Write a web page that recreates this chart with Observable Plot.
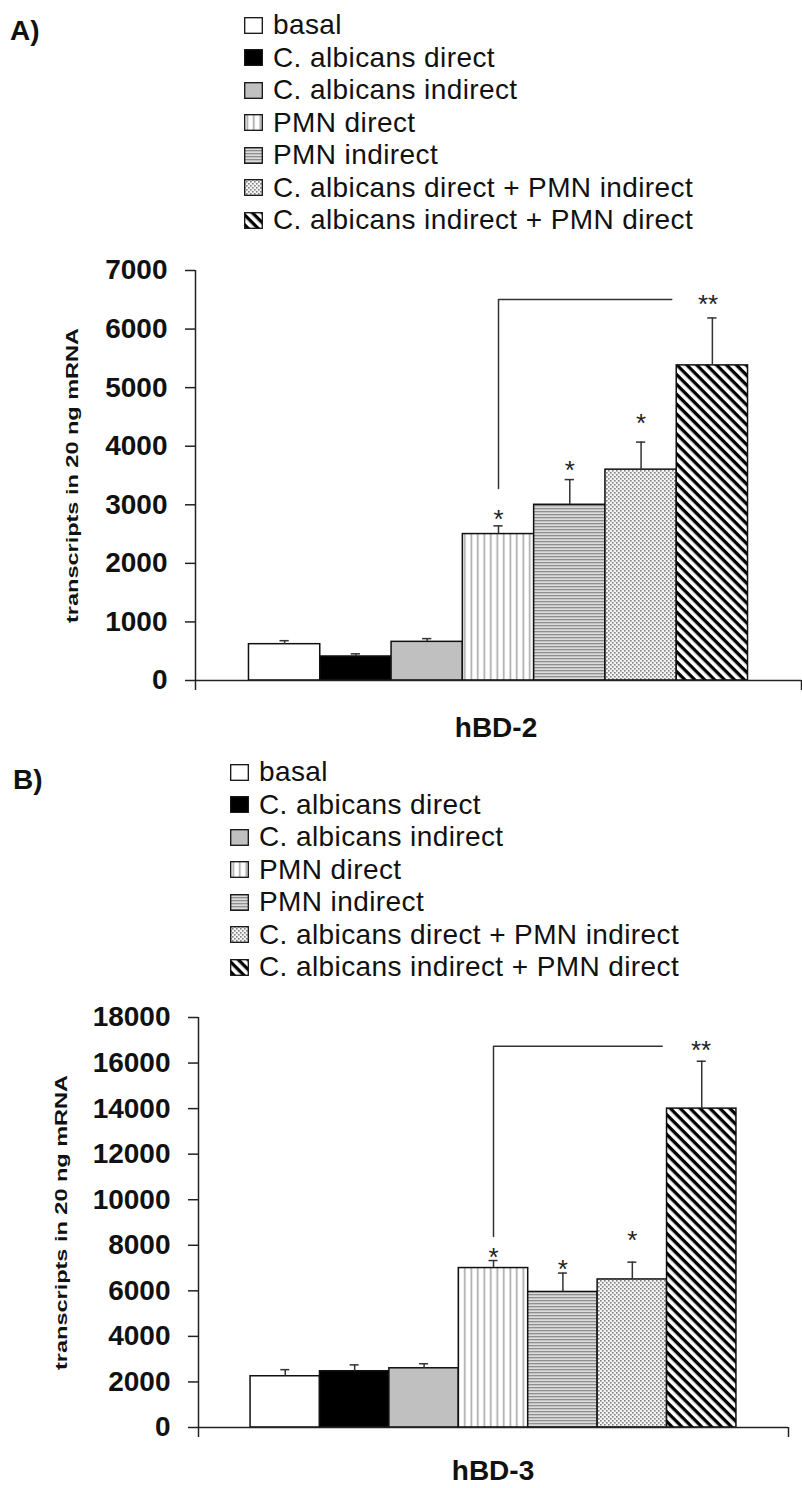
<!DOCTYPE html>
<html><head><meta charset="utf-8">
<script src="https://cdn.jsdelivr.net/npm/d3@7"></script>
<script src="https://cdn.jsdelivr.net/npm/@observablehq/plot@0.6"></script>
<style>
body{margin:0;background:#fff;}
#page{position:relative;width:802px;height:1488px;overflow:hidden;font-family:'Liberation Sans',Arial,Helvetica,sans-serif;color:#111;background:#fff;}
.abs{position:absolute;}
.panel{font-weight:bold;font-size:28px;line-height:28px;transform:translateY(-50%);}
.leg-row{position:absolute;height:32px;display:flex;align-items:center;font-size:28px;letter-spacing:0.4px;white-space:nowrap;transform:translateY(-50%);}
.leg-row svg{margin-right:10px;flex:none;}
.xtitle{font-weight:bold;font-size:28px;line-height:28px;transform:translate(-50%,-50%);white-space:nowrap;}
</style></head>
<body>
<svg width="0" height="0" style="position:absolute">
<defs>
<pattern id="pVert" patternUnits="userSpaceOnUse" width="6.5" height="10"><rect width="6.5" height="10" fill="#fff"/><rect x="2.5" width="1.6" height="10" fill="#a6a6a6"/></pattern>
<pattern id="pHoriz" patternUnits="userSpaceOnUse" width="10" height="3"><rect width="10" height="3" fill="#dcdcdc"/><rect width="10" height="1.3" fill="#8f8f8f"/></pattern>
<pattern id="pDots" patternUnits="userSpaceOnUse" width="4" height="4"><rect width="4" height="4" fill="#f4f4f4"/><rect width="1.6" height="1.6" fill="#808080"/><rect x="2" y="2" width="1.6" height="1.6" fill="#808080"/></pattern>
<pattern id="pDiag" patternUnits="userSpaceOnUse" width="10" height="7" patternTransform="rotate(45)"><rect width="10" height="7" fill="#fff"/><rect width="10" height="3.3" fill="#000"/></pattern>
</defs></svg>
<div id="page"></div>
<script>
// ---- data ----
const categories = [
  "basal",
  "C. albicans direct",
  "C. albicans indirect",
  "PMN direct",
  "PMN indirect",
  "C. albicans direct + PMN indirect",
  "C. albicans indirect + PMN direct"
];
const valuesA = [620, 410, 660, 2500, 3000, 3600, 5380];
const errorsA = [60, 45, 55, 140, 430, 470, 810];
const valuesB = [2250, 2470, 2600, 7000, 5950, 6500, 14000];
const errorsB = [290, 280, 200, 330, 830, 760, 2080];
const yTicksA = [0, 1000, 2000, 3000, 4000, 5000, 6000, 7000];
const yTicksB = [0, 2000, 4000, 6000, 8000, 10000, 12000, 14000, 16000, 18000];
const starLabels = ["*", "*", "*", "**"];
const starIndexA = [3, 4, 5, 5.94];
const starYA = [2868, 3705, 4507, 6539];
const starIndexB = [3, 4, 5, 5.99];
const starYB = [7770, 7242, 8518, 16830];
const bracketX = [3, 3, 5.43];
const bracketYA = [3278, 6505, 6505];
const bracketYB = [8386, 16741, 16741];
const titles = ["hBD-2", "hBD-3"];
const panelLabels = ["A)", "B)"];
const yLabel = "transcripts in 20 ng mRNA";

// ---- styles ----
const fills = ["#ffffff", "#000000", "#c0c0c0", "url(#pVert)", "url(#pHoriz)", "url(#pDots)", "url(#pDiag)"];
const FONT = "'Liberation Sans', Arial, Helvetica, sans-serif";

const page = document.getElementById("page");

function addDiv(cls, text, left, top) {
  const d = document.createElement("div");
  d.className = "abs " + cls;
  d.textContent = text;
  d.style.left = left + "px";
  d.style.top = top + "px";
  page.appendChild(d);
  return d;
}

function legend(left, top0, step) {
  categories.forEach((c, i) => {
    const row = document.createElement("div");
    row.className = "leg-row";
    row.style.left = left + "px";
    row.style.top = (top0 + i * step) + "px";
    const ns = "http://www.w3.org/2000/svg";
    const s = document.createElementNS(ns, "svg");
    s.setAttribute("width", 19); s.setAttribute("height", 17);
    const r = document.createElementNS(ns, "rect");
    r.setAttribute("x", 0.7); r.setAttribute("y", 0.7);
    r.setAttribute("width", 17.6); r.setAttribute("height", 15.6);
    r.setAttribute("fill", fills[i]); r.setAttribute("stroke", "#111"); r.setAttribute("stroke-width", 1.3);
    s.appendChild(r);
    row.appendChild(s);
    const t = document.createElement("span");
    t.textContent = c;
    row.appendChild(t);
    page.appendChild(row);
  });
}

function chart(cfg) {
  const rows = categories.map((c, i) => ({i, c, value: cfg.values[i], err: cfg.errors[i]}));
  const xDomain = [-1.25, categories.length + 0.25];
  const stars = cfg.starIdx.map((x, k) => ({x, y: cfg.starY[k], t: starLabels[k]}));
  const bracket = bracketX.map((x, k) => ({x, y: cfg.bracketY[k]}));
  const svg = Plot.plot({
    width: 802, height: cfg.height,
    marginLeft: cfg.ml, marginRight: cfg.mr, marginTop: cfg.mt, marginBottom: cfg.mb,
    x: {domain: xDomain, axis: null},
    y: {domain: [0, cfg.ticks[cfg.ticks.length - 1]], axis: null},
    style: {fontFamily: FONT, fontSize: "28px", fontWeight: "bold", color: "#111", background: "transparent", overflow: "visible"},
    marks: [
      ...rows.map((r, i) => Plot.rectY([r], {x1: d => d.i - 0.5, x2: d => d.i + 0.5, y1: 0, y2: "value", fill: fills[i], stroke: "#111", strokeWidth: 1.5})),
      Plot.ruleX(rows, {x: "i", y1: "value", y2: d => d.value + d.err, stroke: "#333", strokeWidth: 1.5}),
      Plot.ruleY(rows, {y: d => d.value + d.err, x1: d => d.i - 0.065, x2: d => d.i + 0.065, stroke: "#333", strokeWidth: 1.5}),
      Plot.line(bracket, {x: "x", y: "y", stroke: "#333", strokeWidth: 1.5}),
      Plot.text(stars, {x: "x", y: "y", text: "t", fontSize: 26, fontWeight: "normal", dy: 7, fill: "#222"}),
      Plot.ruleY([0], {stroke: "#222", strokeWidth: 1.5}),
      Plot.ruleX([xDomain[0]], {stroke: "#222", strokeWidth: 1.5}),
      Plot.axisY({ticks: cfg.ticks, tickSize: 10, tickPadding: 18, tickFormat: d => String(d), label: null, stroke: "#222", strokeWidth: 1.5, fill: "#111"}),
      Plot.axisX({ticks: xDomain, tickSize: 10, tickFormat: () => "", label: null, stroke: "#222", strokeWidth: 1.5}),
      Plot.text([yLabel], {frameAnchor: "left", textAnchor: "middle", lineAnchor: "middle", dx: cfg.labelDx, rotate: -90, text: d => d, fontSize: 16, fontWeight: "bold", fill: "#111"})
    ]
  });
  d3.select(svg).selectAll("text").filter(function() { return this.textContent === yLabel; })
    .attr("text-anchor", "middle").attr("textLength", 295).attr("lengthAdjust", "spacingAndGlyphs");
  svg.style.position = "absolute";
  svg.style.left = "0px";
  svg.style.top = cfg.top + "px";
  page.appendChild(svg);
}

// Panel A
addDiv("panel", panelLabels[0], 10, 31);
legend(244, 25, 32.5);
chart({values: valuesA, errors: errorsA, ticks: yTicksA, starIdx: starIndexA, starY: starYA, bracketY: bracketYA,
  top: 250, height: 455, ml: 195, mr: 1, mt: 20, mb: 25, labelDx: -123});
addDiv("xtitle", titles[0], 496, 728);

// Panel B
addDiv("panel", panelLabels[1], 13, 780);
legend(230, 772, 32.5);
chart({values: valuesB, errors: errorsB, ticks: yTicksB, starIdx: starIndexB, starY: starYB, bracketY: bracketYB,
  top: 1000, height: 455, ml: 198, mr: 14, mt: 17, mb: 28, labelDx: -137});
addDiv("xtitle", titles[1], 493, 1471);
</script>
</body></html>
